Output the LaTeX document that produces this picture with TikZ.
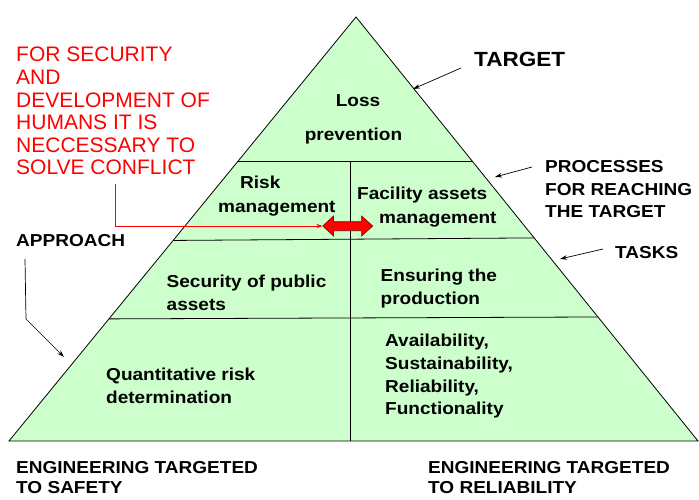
\documentclass[tikz,border=0pt]{standalone}
\usepackage{fontspec}
\setmainfont{Liberation Sans}
\newfontfamily\lblfont{Liberation Sans}[FakeStretch=1.1]
\usetikzlibrary{arrows.meta,calc}
\definecolor{pyrgreen}{HTML}{CCFFCC}
\definecolor{redtext}{HTML}{FF0000}
\definecolor{darkred}{HTML}{8B0000}
\tikzset{
  intext/.style={font=\lblfont\bfseries\fontsize{17.3}{22.7}\selectfont, inner sep=0pt, align=left},
  lbl/.style={font=\lblfont\bfseries\fontsize{17.3}{22.5}\selectfont, inner sep=0pt, align=left, anchor=north west},
  redlbl/.style={font=\fontsize{21}{22.6}\selectfont, text=redtext, inner sep=0pt, align=left, anchor=north west},
  ptr/.style={-{Stealth[length=7pt,width=4.5pt]}, line width=0.7pt},
  pyr/.style={draw=black, line width=0.8pt, fill=pyrgreen},
  divider/.style={draw=black, line width=0.8pt},
}
\begin{document}
\begin{tikzpicture}[x=1pt,y=-1pt]
\useasboundingbox (0,0) rectangle (699,500);

% pyramid
\coordinate (apex) at (356,17);
\coordinate (bl) at (9,441);
\coordinate (br) at (698,441);
\draw[pyr] (apex) -- (br) -- (bl) -- cycle;
\coordinate (l1) at ($(apex)!0.3396!(bl)$);
\coordinate (r1) at ($(apex)!0.3396!(br)$);
\coordinate (l2) at ($(apex)!0.527!(bl)$);
\coordinate (r2) at ($(apex)!0.521!(br)$);
\coordinate (l3) at ($(apex)!0.712!(bl)$);
\coordinate (r3) at ($(apex)!0.7075!(br)$);
\coordinate (vtop) at (350,161);
\coordinate (vbot) at (350,441);
\draw[divider] (l1) -- (r1);
\draw[divider] (l2) -- (r2);
\draw[divider] (l3) -- (r3);
\draw[divider] (vtop) -- (vbot);

% texts inside
\node[intext, anchor=base] (loss) at (358,107) {Loss};
\node[intext, anchor=base] (prev) at (353.5,141) {prevention};
\node[intext, anchor=base west] (risk) at (240,188.3) {Risk};
\node[intext, anchor=base west] (riskm) at (218,212.3) {management};
\node[intext, anchor=base west] (fac) at (357,199.3) {Facility assets};
\node[intext, anchor=base west] (facm) at (379,223.3) {management};
\node[intext, anchor=north west] (secur) at (166.5,274.7) {Security of public\\assets};
\node[intext, anchor=north west] (ensur) at (380.5,269) {Ensuring the\\production};
\node[intext, anchor=north west] (quant) at (106,368) {Quantitative risk\\determination};
\node[intext, anchor=north west] (avail) at (385,334) {Availability,\\Sustainability,\\Reliability,\\Functionality};

% labels
\node[lbl, font=\lblfont\bfseries\fontsize{20.5}{24}\selectfont] (target) at (474,52.3) {TARGET};
\node[lbl] (proc) at (545,160.6) {PROCESSES\\FOR REACHING\\THE TARGET};
\node[lbl] (tasks) at (615,246) {TASKS};
\node[lbl] (appr) at (16,234) {APPROACH};
\node[lbl, font=\lblfont\bfseries\fontsize{17.3}{20}\selectfont] (engs) at (16,461) {ENGINEERING TARGETED\\TO SAFETY};
\node[lbl, font=\lblfont\bfseries\fontsize{17.3}{20}\selectfont] (engr) at (428,461) {ENGINEERING TARGETED\\TO RELIABILITY};
\node[redlbl] (human) at (16,47) {FOR SECURITY\\AND\\DEVELOPMENT OF\\HUMANS IT IS\\NECCESSARY TO\\SOLVE CONFLICT};

% pointer arrows
\coordinate (ta1) at (461,68);  \coordinate (ta2) at (413,89);
\coordinate (pa1) at (532,167); \coordinate (pa2) at (495,177);
\coordinate (ka1) at (603,249); \coordinate (ka2) at (560,259);
\coordinate (aa1) at (25,259);  \coordinate (aa2) at (26,319); \coordinate (aa3) at (64,357);
\draw[ptr] (ta1) -- (ta2);
\draw[ptr] (pa1) -- (pa2);
\draw[ptr] (ka1) -- (ka2);
\draw[ptr] (aa1) -- (aa2) -- (aa3);

% red conflict arrow
\coordinate (rs) at (115,184);
\coordinate (rt) at (322.5,226);
\draw[ptr, draw=redtext, line width=0.8pt, -{Stealth[length=6pt,width=4pt]}] (rs) |- (rt);
\draw[fill=redtext, draw=darkred, line width=0.6pt]
  (322.7,226) -- (333.5,216) -- (333.5,221.7) -- (361.7,221.7) -- (361.7,216)
  -- (372.7,226) -- (361.7,236) -- (361.7,230.7) -- (333.5,230.7) -- (333.5,236) -- cycle;
\end{tikzpicture}
\end{document}
